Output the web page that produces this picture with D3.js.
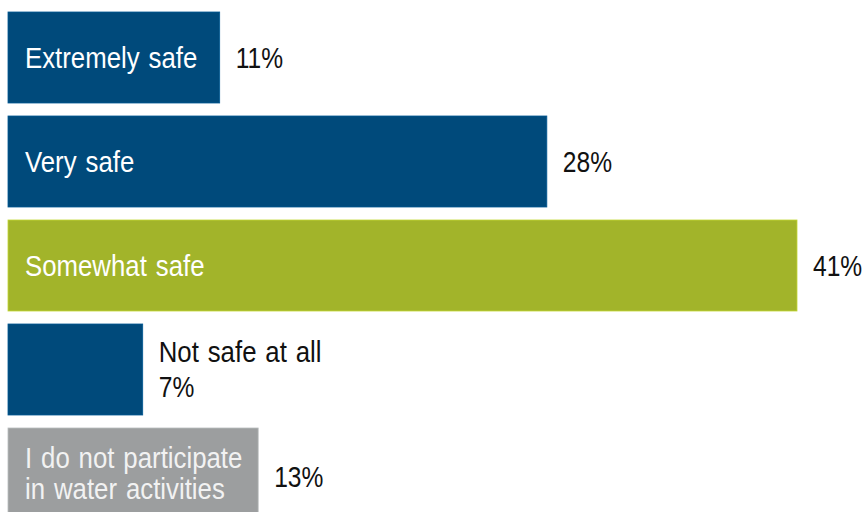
<!DOCTYPE html>
<html>
<head>
<meta charset="utf-8">
<script src="https://cdn.jsdelivr.net/npm/d3@7"></script>
<style>
  html, body { margin: 0; padding: 0; background: #ffffff; }
  svg { display: block; }
</style>
</head>
<body>
<svg id="chart" width="868" height="512"></svg>
<script>
// Survey answers: how safe respondents feel, share of responses (%)
const categories = [
  "Extremely safe",
  "Very safe",
  "Somewhat safe",
  "Not safe at all",
  "I do not participate in water activities"
];
const values = [11, 28, 41, 7, 13];
const valueLabels = ["11%", "28%", "41%", "7%", "13%"];

// Bar fills and where each category name sits
const barColors = ["#004a7b", "#004a7b", "#a2b42a", "#004a7b", "#9c9e9f"];
const nameInside = [true, true, true, false, true];
const nameLines = [
  ["Extremely safe"],
  ["Very safe"],
  ["Somewhat safe"],
  ["Not safe at all"],
  ["I do not participate", "in water activities"]
];

const svg = d3.select("#chart");

const x = d3.scaleLinear().domain([0, 41]).range([8, 797]);
const y = d3.scaleBand().domain(categories).range([12, 519])
  .paddingInner(0.125).paddingOuter(0);

// Condensed sans face: regular face squeezed horizontally
const FONT = "'Liberation Sans', Arial, sans-serif";
const FS = 30;
const SX_NAME = 0.86;
const SX_VALUE = 0.82;

function label(g, tx, ty, lines, color, lineH, sx) {
  const t = g.append("text")
    .attr("transform", `translate(${tx},${ty}) scale(${sx},1)`)
    .attr("font-family", FONT)
    .attr("font-size", FS)
    .attr("fill", color)
    .style("word-spacing", "2px");
  lines.forEach((ln, i) => {
    t.append("tspan").attr("x", 0).attr("y", i * lineH).text(ln);
  });
  return t;
}

const rows = svg.selectAll("g.row")
  .data(categories.map((c, i) => ({ c, i, v: values[i] })))
  .join("g").attr("class", "row");

rows.append("rect")
  .attr("x", x(0))
  .attr("y", d => y(d.c))
  .attr("width", d => x(d.v) - x(0))
  .attr("height", y.bandwidth())
  .attr("fill", d => barColors[d.i])
  .attr("stroke", d => d3.color(barColors[d.i]).brighter(0.5))
  .attr("stroke-width", 0.8);

rows.each(function(d) {
  const g = d3.select(this);
  const cy = y(d.c) + y.bandwidth() / 2;
  const lines = nameLines[d.i];
  const lineH = 32;
  if (nameInside[d.i]) {
    const first = cy + 10 - (lines.length - 1) * lineH / 2;
    label(g, 25, first, lines, d.i === 4 ? "#f2f2f2" : "#ffffff", lineH, SX_NAME);
    const vy = lines.length > 1 ? cy + 13 : cy + 10;
    label(g, x(d.v) + 16, vy, [valueLabels[d.i]], "#111111", lineH, SX_VALUE);
  } else {
    const t = label(g, x(d.v) + 16, cy - 7.5, [lines[0]], "#111111", 35, SX_NAME);
    label(g, x(d.v) + 16, cy + 27.5, [valueLabels[d.i]], "#111111", 35, SX_VALUE);
  }
});
</script>
</body>
</html>
